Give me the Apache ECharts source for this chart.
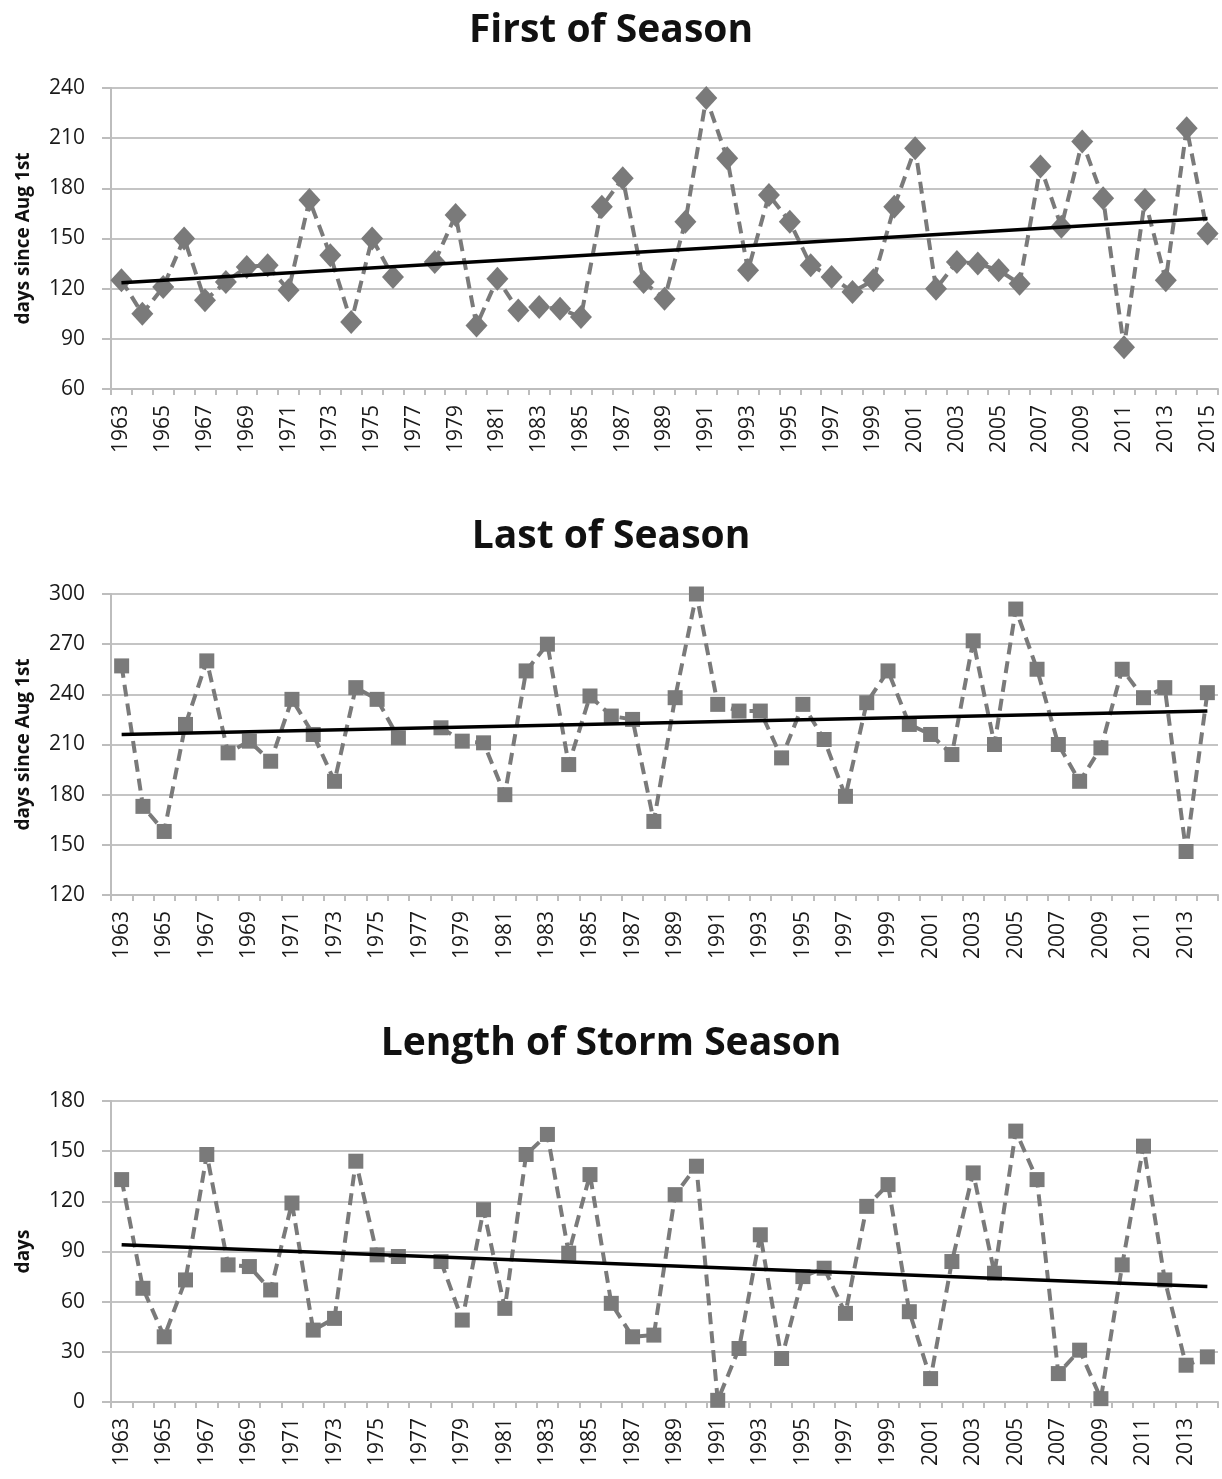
<!DOCTYPE HTML>
<html>
	<head>
		<meta charset="utf-8">
		<title>Storm season</title>
		<style type="text/css">
			html, body { margin: 0; padding: 0; background: #fff; }
		</style>
	</head>
	<body>
		<div id="main" style="width: 1222px;height:1479px;"></div>
	</body>
	<script type="text/javascript" src="https://cdn.jsdelivr.net/npm/echarts@6/dist/echarts.min.js"></script>
	<script type="text/javascript">
		// years on the x axes (1977 has no data)
		var yearsFirst = ['1963','1964','1965','1966','1967','1968','1969','1970','1971','1972','1973','1974','1975','1976','1977','1978','1979','1980','1981','1982','1983','1984','1985','1986','1987','1988','1989','1990','1991','1992','1993','1994','1995','1996','1997','1998','1999','2000','2001','2002','2003','2004','2005','2006','2007','2008','2009','2010','2011','2012','2013','2014','2015'];
		var yearsLast = ['1963','1964','1965','1966','1967','1968','1969','1970','1971','1972','1973','1974','1975','1976','1977','1978','1979','1980','1981','1982','1983','1984','1985','1986','1987','1988','1989','1990','1991','1992','1993','1994','1995','1996','1997','1998','1999','2000','2001','2002','2003','2004','2005','2006','2007','2008','2009','2010','2011','2012','2013','2014'];

		// days since Aug 1st of the first storm
		var firstOfSeason = [125,105,121,150,113,124,133,134,119,173,140,100,150,127,null,136,164,98,126,107,109,108,103,169,186,124,114,160,234,198,131,176,160,134,127,118,125,169,204,120,136,135,131,123,193,157,208,174,85,173,125,216,153];
		// days since Aug 1st of the last storm
		var lastOfSeason = [257,173,158,222,260,205,212,200,237,216,188,244,237,214,null,220,212,211,180,254,270,198,239,227,225,164,238,300,234,230,230,202,234,213,179,235,254,222,216,204,272,210,291,255,210,188,208,255,238,244,146,241];
		// length of season in days
		var seasonLength = [133,68,39,73,148,82,81,67,119,43,50,144,88,87,null,84,49,115,56,148,160,89,136,59,39,40,124,141,1,32,100,26,75,80,53,117,130,54,14,84,137,77,162,133,17,31,2,82,153,73,22,27];

		// linear trend, value at first and last year
		var trendFirst = [123.5, 162];
		var trendLast = [216, 230];
		var trendLength = [94, 69];

		var titles = ['First of Season', 'Last of Season', 'Length of Storm Season'];
		var yNames = ['days since Aug 1st', 'days since Aug 1st', 'days'];
		var yMin = [60, 120, 0];
		var yMax = [240, 300, 180];

		var grey = '#7a7a7a';
		var gridTops = [88, 594, 1101];
		var titleTops = [11, 517, 1024];

		function trendData(n, ends) {
			var arr = [];
			for (var i = 0; i < n; i++) arr.push(null);
			arr[0] = ends[0];
			arr[n - 1] = ends[1];
			return arr;
		}

		var cats = [yearsFirst, yearsLast, yearsLast];
		var vals = [firstOfSeason, lastOfSeason, seasonLength];
		var trends = [trendFirst, trendLast, trendLength];

		var option = {
			backgroundColor: '#fff',
			animation: false,
			title: [],
			grid: [],
			xAxis: [],
			yAxis: [],
			series: []
		};

		for (var k = 0; k < 3; k++) {
			option.title.push({
				text: titles[k],
				left: 'center',
				top: titleTops[k],
				padding: 0,
				textStyle: { fontFamily: 'Open Sans', fontWeight: 'bold', fontSize: 39, color: '#111' }
			});
			option.grid.push({ left: 111, right: 4, top: gridTops[k], height: 301 });
			option.xAxis.push({
				type: 'category',
				gridIndex: k,
				data: cats[k],
				boundaryGap: true,
				axisLine: { show: true, lineStyle: { color: '#bdbdbd', width: 2 } },
				axisTick: { show: true, interval: 0, length: 6, lineStyle: { color: '#bdbdbd', width: 2 } },
				axisLabel: {
					interval: 1,
					rotate: 90,
					margin: 16,
					fontFamily: 'Open Sans',
					fontSize: 21,
					color: '#1a1a1a'
				},
				splitLine: { show: false }
			});
			option.yAxis.push({
				type: 'value',
				gridIndex: k,
				min: yMin[k],
				max: yMax[k],
				interval: 30,
				name: yNames[k],
				nameLocation: 'middle',
				nameGap: 78,
				nameTextStyle: { fontFamily: 'Open Sans', fontWeight: 'bold', fontSize: 19, color: '#111' },
				axisLine: { show: true, lineStyle: { color: '#bdbdbd', width: 2 } },
				axisTick: { show: true, length: 9, lineStyle: { color: '#bdbdbd', width: 2 } },
				axisLabel: { margin: 26, fontFamily: 'Open Sans', fontSize: 21, color: '#1a1a1a' },
				splitLine: { show: true, lineStyle: { color: '#c4c4c4', width: 2 } }
			});
			option.series.push({
				type: 'line',
				xAxisIndex: k,
				yAxisIndex: k,
				data: vals[k],
				connectNulls: false,
				showSymbol: true,
				showAllSymbol: true,
				symbol: k === 0 ? 'diamond' : 'rect',
				symbolSize: k === 0 ? [22, 24] : 15,
				itemStyle: { color: grey },
				lineStyle: { color: grey, width: 4, type: [12, 7] },
				z: 2
			});
			option.series.push({
				type: 'line',
				xAxisIndex: k,
				yAxisIndex: k,
				data: trendData(cats[k].length, trends[k]),
				connectNulls: true,
				symbol: 'none',
				lineStyle: { color: '#000', width: 3.5 },
				z: 3
			});
		}

		var myChart = echarts.init(document.getElementById('main'));
		myChart.setOption(option);
	</script>
</html>
